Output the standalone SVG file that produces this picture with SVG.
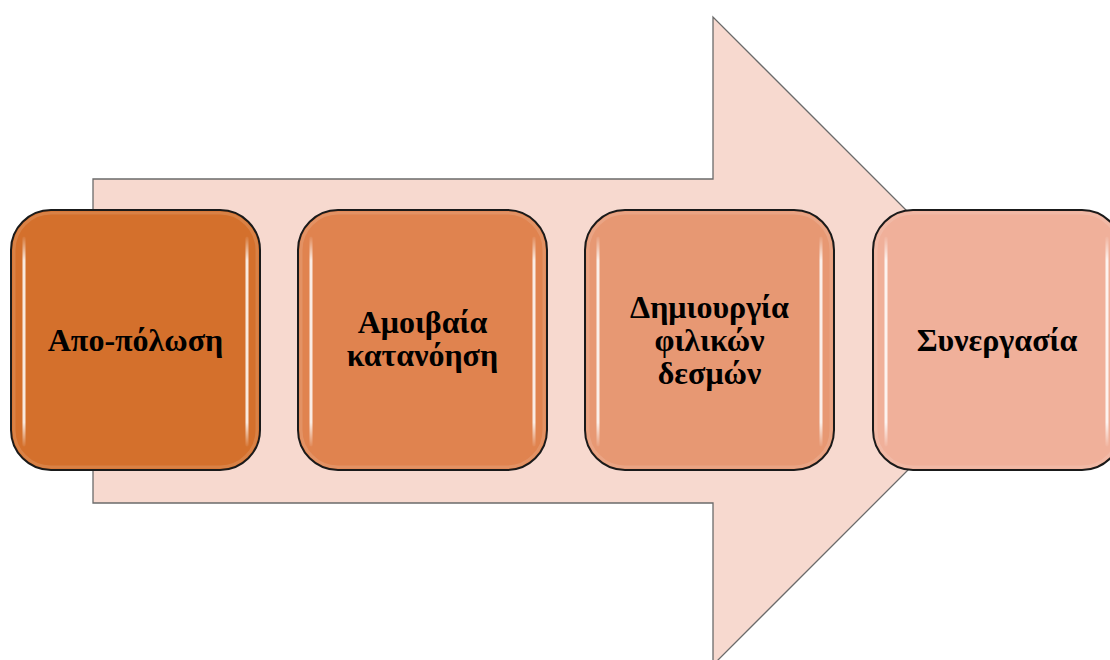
<svg xmlns="http://www.w3.org/2000/svg" width="1110" height="660" viewBox="0 0 1110 660">
  <defs>
    <style>
      .arrow { fill: #F7D9CF; stroke: #6B6B6B; stroke-width: 1.3; }
      .box { stroke: #1A1A1A; stroke-width: 2; }
      .hl { fill: none; stroke: url(#hlgrad); stroke-width: 3; stroke-linecap: round; }
      .inner { fill: none; stroke: #FFFFFF; stroke-opacity: 0.12; stroke-width: 3; }
      .lbl { font-family: "Liberation Serif", "Times New Roman", serif; font-weight: bold; font-size: 32px; fill: #000000; text-anchor: middle; }
    </style>
    <linearGradient id="hlgrad" gradientUnits="userSpaceOnUse" x1="0" y1="235" x2="0" y2="448">
      <stop offset="0" stop-color="#FFFFFF" stop-opacity="0"/>
      <stop offset="0.12" stop-color="#FFFFFF" stop-opacity="0.85"/>
      <stop offset="0.88" stop-color="#FFFFFF" stop-opacity="0.85"/>
      <stop offset="1" stop-color="#FFFFFF" stop-opacity="0"/>
    </linearGradient>
  </defs>

  <g id="background-arrow">
    <path class="arrow" d="M93,179 L713,179 L713,17 L1037,341 L713,665 L713,503 L93,503 Z"/>
  </g>

  <g id="connectors"></g>

  <g id="node-1">
    <rect class="box" x="11" y="210" width="249" height="260" rx="40" ry="40" fill="#D4702C"/>
    <rect class="inner" x="14" y="213" width="243" height="254" rx="37" ry="37"/>
    <path class="hl" d="M24,238 L24,445"/>
    <path class="hl" d="M247,238 L247,445"/>
    <text class="lbl" x="135.5" y="351">Απο-πόλωση</text>
  </g>

  <g id="node-2">
    <rect class="box" x="298" y="210" width="249" height="260" rx="40" ry="40" fill="#E0834F"/>
    <rect class="inner" x="301" y="213" width="243" height="254" rx="37" ry="37"/>
    <path class="hl" d="M311,238 L311,445"/>
    <path class="hl" d="M534,238 L534,445"/>
    <text class="lbl" x="422.5" y="333">Αμοιβαία</text>
    <text class="lbl" x="422.5" y="366">κατανόηση</text>
  </g>

  <g id="node-3">
    <rect class="box" x="585" y="210" width="249" height="260" rx="40" ry="40" fill="#E79873"/>
    <rect class="inner" x="588" y="213" width="243" height="254" rx="37" ry="37"/>
    <path class="hl" d="M598,238 L598,445"/>
    <path class="hl" d="M821,238 L821,445"/>
    <text class="lbl" x="709.5" y="318">Δημιουργία</text>
    <text class="lbl" x="709.5" y="351">φιλικών</text>
    <text class="lbl" x="709.5" y="384">δεσμών</text>
  </g>

  <g id="node-4">
    <rect class="box" x="873" y="210" width="249" height="260" rx="40" ry="40" fill="#F0B09A"/>
    <rect class="inner" x="876" y="213" width="243" height="254" rx="37" ry="37"/>
    <path class="hl" d="M886,238 L886,445"/>
    <path class="hl" d="M1107,238 L1107,445"/>
    <text class="lbl" x="997" y="351">Συνεργασία</text>
  </g>
</svg>
